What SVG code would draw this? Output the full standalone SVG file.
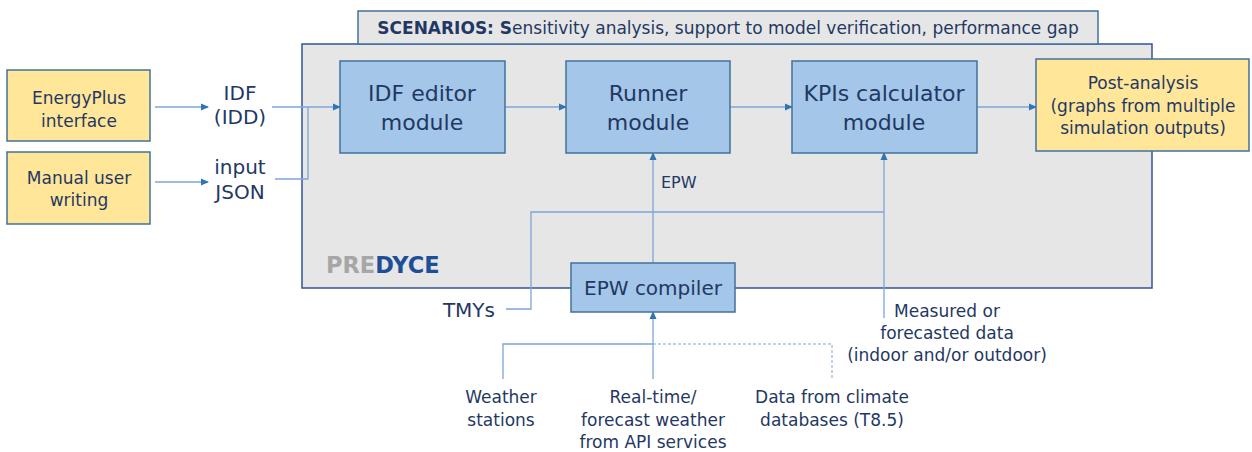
<svg xmlns="http://www.w3.org/2000/svg" width="1252" height="452" viewBox="0 0 1252 452">
<style>
text{font-family:"DejaVu Sans","Liberation Sans",sans-serif;fill:#1F3864;text-anchor:middle}
.yel{fill:#FFE699;stroke:#41719C;stroke-width:1.5}
.mod{fill:#A4C6E8;stroke:#41719C;stroke-width:1.5}
.ln{fill:none;stroke:#7BA7D6;stroke-width:1.3}
.ar{fill:none;stroke:#7BA7D6;stroke-width:1.3;marker-end:url(#ah)}
.dash{fill:none;stroke:#7BA7D6;stroke-width:1;stroke-dasharray:3 2}
.m{font-size:22px}
.s{font-size:17px}
.t{font-size:20px}
</style>
<defs>
<marker id="ah" markerWidth="8" markerHeight="8" refX="7" refY="4" orient="auto" markerUnits="userSpaceOnUse">
<path d="M0,0.5 L8,4 L0,7.5 Z" fill="#2E75B6"/>
</marker>
</defs>
<rect width="1252" height="452" fill="#fff"/>
<g id="predyce">
<rect x="302" y="44" width="850" height="244" fill="#E6E6E6" stroke="#2F5597" stroke-width="1.5"/>
<text x="326" y="273" style="text-anchor:start;font-size:22.5px;font-weight:bold"><tspan fill="#A6A6A6">PRE</tspan><tspan fill="#1F4E99">DYCE</tspan></text>
</g>
<g id="scenarios">
<rect x="358" y="11" width="740" height="33" fill="#E6E6E6" stroke="#41719C" stroke-width="1.5"/>
<text x="728" y="34" class="s"><tspan font-weight="bold">SCENARIOS: S</tspan>ensitivity analysis, support to model verification, performance gap</text>
</g>
<g id="connectors">
<path class="ar" d="M155,107 H208"/>
<path class="ar" d="M155,182 H208"/>
<path class="ar" d="M272,107 H340"/>
<path class="ln" d="M275,179 H308 V107"/>
<path class="ar" d="M505,107 H566"/>
<path class="ar" d="M730,107 H792"/>
<path class="ar" d="M977,107 H1036"/>
<path class="ar" d="M653,263 V153"/>
<path class="ln" d="M506,309 H531 V212 H884"/>
<path class="ar" d="M884,318 V153"/>
<path class="ar" d="M653,379 V312"/>
<path class="ln" d="M503,379 V344 H653"/>
<path class="dash" d="M653,344 H832 V379"/>
</g>
<g id="energyplus">
<rect class="yel" x="7" y="70" width="143" height="71"/>
<text class="s" x="79" y="104">EnergyPlus</text>
<text class="s" x="79" y="127">interface</text>
</g>
<g id="manual">
<rect class="yel" x="7" y="152" width="143" height="72"/>
<text class="s" x="79" y="184">Manual user</text>
<text class="s" x="79" y="206">writing</text>
</g>
<g id="idf-label">
<text class="t" x="240" y="100">IDF</text>
<text class="t" x="240" y="124">(IDD)</text>
</g>
<g id="json-label">
<text class="t" x="240" y="174">input</text>
<text class="t" x="240" y="199">JSON</text>
</g>
<g id="idf-editor">
<rect class="mod" x="340" y="61" width="165" height="92"/>
<text class="m" x="422" y="101">IDF editor</text>
<text class="m" x="422" y="130">module</text>
</g>
<g id="runner">
<rect class="mod" x="566" y="61" width="164" height="92"/>
<text class="m" x="648" y="101">Runner</text>
<text class="m" x="648" y="130">module</text>
</g>
<g id="kpis">
<rect class="mod" x="792" y="61" width="185" height="92"/>
<text class="m" x="884" y="101">KPIs calculator</text>
<text class="m" x="884" y="130">module</text>
</g>
<g id="post">
<rect class="yel" x="1036" y="59" width="213" height="92"/>
<text class="s" x="1143" y="89">Post-analysis</text>
<text class="s" x="1143" y="112">(graphs from multiple</text>
<text class="s" x="1143" y="134">simulation outputs)</text>
</g>
<g id="epw-compiler">
<rect class="mod" x="571" y="263" width="164" height="49"/>
<text class="t" x="653" y="295">EPW compiler</text>
</g>
<g id="epw-label"><text x="661" y="188" style="font-size:16px;text-anchor:start">EPW</text></g>
<g id="tmys"><text class="t" x="495" y="317" style="text-anchor:end">TMYs</text></g>
<g id="measured">
<text class="s" x="947" y="317">Measured or</text>
<text class="s" x="947" y="339">forecasted data</text>
<text class="s" x="947" y="361">(indoor and/or outdoor)</text>
</g>
<g id="weather-stations">
<text class="s" x="501" y="403">Weather</text>
<text class="s" x="501" y="426">stations</text>
</g>
<g id="realtime">
<text class="s" x="653" y="403">Real-time/</text>
<text class="s" x="653" y="426">forecast weather</text>
<text class="s" x="653" y="448">from API services</text>
</g>
<g id="climate-db">
<text class="s" x="832" y="403">Data from climate</text>
<text class="s" x="832" y="426">databases (T8.5)</text>
</g>
</svg>
